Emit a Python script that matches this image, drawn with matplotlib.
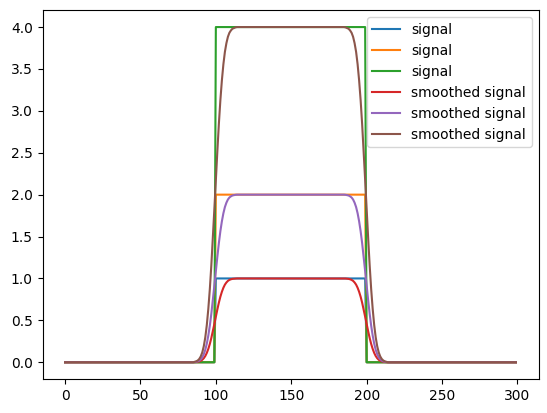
import numpy as np
import matplotlib
matplotlib.use("Agg")
import matplotlib.pyplot as plt

# x samples and step-signal definition
x = np.arange(300)
step_start = 100
step_end = 200
levels = [1, 2, 4]

# Edge profile of the smoothed signal (fraction of level), read for x = 86..113
edge_profile = [0.0013, 0.0027, 0.0053, 0.0098, 0.0174, 0.0294, 0.0478, 0.0743,
                0.111, 0.159, 0.218, 0.289, 0.370, 0.456, 0.544, 0.630, 0.711,
                0.782, 0.841, 0.889, 0.926, 0.952, 0.971, 0.983, 0.990, 0.995,
                0.997, 0.999]
rise_start = 86
fall_start = 186

base = np.zeros(len(x))
base[(x >= step_start) & (x < step_end)] = 1.0

smooth_base = np.zeros(len(x))
n = len(edge_profile)
smooth_base[rise_start:rise_start + n] = edge_profile
smooth_base[rise_start + n:fall_start] = 1.0
smooth_base[fall_start:fall_start + n] = edge_profile[::-1]

fig = plt.figure(figsize=(5.47, 4.13), dpi=100)
ax = fig.add_subplot(111)
fig.subplots_adjust(left=42.5/547, right=538.5/547, top=1-10.3/413, bottom=1-379/413)

for lv in levels:
    ax.plot(x, base * lv, label="signal")
for lv in levels:
    ax.plot(x, smooth_base * lv, label="smoothed signal")

ax.legend(loc="upper right")
fig.savefig("out.png", dpi=100)
